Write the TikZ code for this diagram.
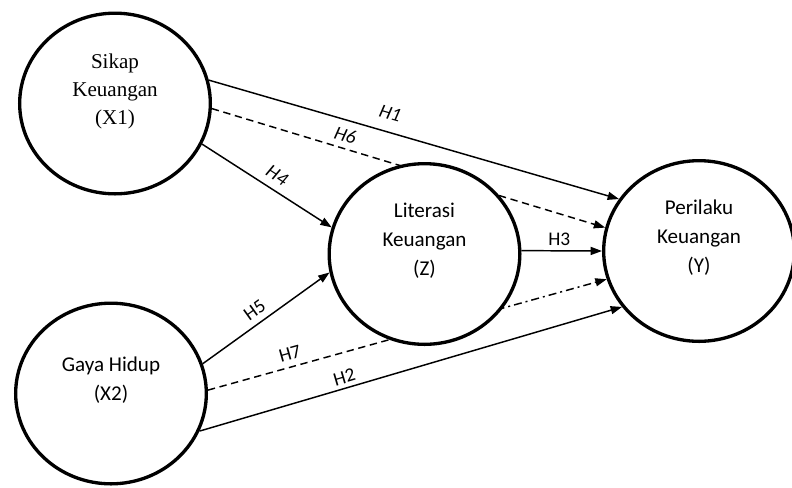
\documentclass[tikz,border=0pt]{standalone}
\usepackage{fontspec}
\setmainfont{Liberation Serif}
\newfontfamily\calib{Carlito}
\usetikzlibrary{shapes.geometric,arrows.meta,backgrounds}
\begin{document}
\begin{tikzpicture}[x=0.75pt,y=-0.75pt,
  latent/.style={ellipse, draw, line width=2.5pt, fill=white,
    minimum width=143pt, minimum height=135.5pt, inner sep=0pt, align=center,
    font=\calib\fontsize{15.8}{22}\selectfont},
  serifnode/.style={font=\fontsize{15.8}{21}\selectfont},
  path/.style={line width=1.1pt, -{Triangle[length=8.5pt,width=6pt]}},
  dashedpath/.style={path, dash pattern=on 5.5pt off 3.5pt},
  lbl/.style={font=\calib\fontsize{14.5}{16}\selectfont, sloped, inner sep=1.5pt},
  ilbl/.style={lbl, font=\calib\itshape\fontsize{14.5}{16}\selectfont}
]
\useasboundingbox (0,0) rectangle (792,487);
\node[latent, serifnode] (X1) at (115,103.5) {Sikap\\Keuangan\\(X1)\\\mbox{}};
\node[latent] (X2) at (111,393.5) {Gaya Hidup\\(X2)\\\mbox{}};
\node[latent] (Z) at (424.5,254) {Literasi\\Keuangan\\(Z)\\\mbox{}};
\node[latent] (Y) at (699,251) {Perilaku\\Keuangan\\(Y)\\\mbox{}};
\begin{scope}[on background layer]
  \draw[path] (X1.14.5) -- node[ilbl, pos=0.43, above=7pt] (lH1) {H1} (Y.147);
  \draw[dashedpath] (X1.-3) -- node[ilbl, pos=0.33, above=3pt] (lH6) {H6} (Y.166.5);
  \draw[path] (X1.-25) -- node[ilbl, pos=0.52, above=4pt] (lH4) {H4} (Z.164);
  \draw[path] (Z.2) -- node[lbl, pos=0.47, above=2pt] (lH3) {H3} (Y.west);
  \draw[path] (X2.18) -- node[lbl, pos=0.47, above=3pt] (lH5) {H5} (Z.-169);
  \path (X2.2.6) -- coordinate[pos=0.55] (h7mid) (Y.197);
  \draw[line width=1.1pt, dash pattern=on 5.5pt off 3.5pt] (X2.2.6) -- node[lbl, pos=0.39, above=3pt] (lH7) {H7} (h7mid);
  \draw[path, dash pattern=on 6pt off 3pt on 1.5pt off 3pt] (h7mid) -- (Y.197);
  \draw[path] (X2.-23) -- node[lbl, pos=0.35, above=1.5pt] (lH2) {H2} (Y.216);
\end{scope}
\end{tikzpicture}
\end{document}
